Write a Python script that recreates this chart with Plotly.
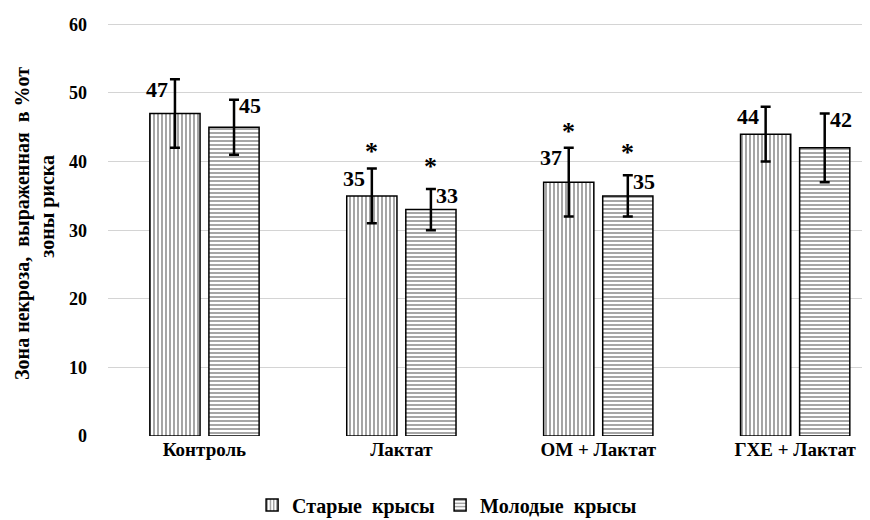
import plotly.graph_objects as go

categories = ["Контроль", "Лактат", "ОМ + Лактат", "ГХЕ + Лактат"]
old_vals = [47, 35, 37, 44]
old_err = [5, 4, 5, 4]
young_vals = [45, 33, 35, 42]
young_err = [4, 3, 3, 5]
old_star = [False, True, True, False]
young_star = [False, True, True, False]
y_ticks = [0, 10, 20, 30, 40, 50, 60]
y_title_lines = ["Зона некроза,  выраженная  в %от", "зоны риска"]

FONT = "Times New Roman, Liberation Serif, DejaVu Serif, serif"
xs = list(range(len(categories)))

fig = go.Figure()
fig.add_trace(go.Bar(
    x=xs, y=old_vals, name="Старые  крысы",
    marker=dict(color="white", line=dict(color="black", width=1.5),
                pattern=dict(shape="|", fgcolor="black", bgcolor="white", size=4, solidity=0.35)),
    error_y=dict(type="data", array=old_err, color="black", thickness=2.5, width=5),
))
fig.add_trace(go.Bar(
    x=xs, y=young_vals, name="Молодые  крысы",
    marker=dict(color="white", line=dict(color="black", width=1.5),
                pattern=dict(shape="-", fgcolor="black", bgcolor="white", size=4, solidity=0.35)),
    error_y=dict(type="data", array=young_err, color="black", thickness=2.5, width=5),
))

off = 0.15
ann = []
for i in xs:
    top_o = old_vals[i] + old_err[i]
    top_y = young_vals[i] + young_err[i]
    ann.append(dict(x=i - off, y=top_o, text=str(old_vals[i]), showarrow=False,
                    xanchor="right", yanchor="middle", xshift=-5, yshift=-10,
                    font=dict(family=FONT, size=22, color="black", weight="bold")))
    ann.append(dict(x=i + off, y=top_y, text=str(young_vals[i]), showarrow=False,
                    xanchor="left", yanchor="middle", xshift=3, yshift=-6,
                    font=dict(family=FONT, size=22, color="black", weight="bold")))
    if old_star[i]:
        ann.append(dict(x=i - off, y=top_o, text="*", showarrow=False,
                        xanchor="center", yanchor="bottom", yshift=0,
                        font=dict(family=FONT, size=26, color="black", weight="bold")))
    if young_star[i]:
        ann.append(dict(x=i + off, y=top_y, text="*", showarrow=False,
                        xanchor="center", yanchor="bottom", yshift=6,
                        font=dict(family=FONT, size=26, color="black", weight="bold")))

# y-axis title, two lines
ann.append(dict(xref="paper", yref="paper", x=-0.113, y=0.5156, text=y_title_lines[0],
                textangle=-90, showarrow=False, xanchor="center", yanchor="middle",
                font=dict(family=FONT, size=20, color="black", weight="bold")))
ann.append(dict(xref="paper", yref="paper", x=-0.079, y=0.557, text=y_title_lines[1],
                textangle=-90, showarrow=False, xanchor="center", yanchor="middle",
                font=dict(family=FONT, size=20, color="black", weight="bold")))

fig.update_layout(
    width=862, height=512,
    margin=dict(l=100, r=0, t=15, b=84, autoexpand=False),
    paper_bgcolor="white", plot_bgcolor="white",
    barmode="group", bargap=0.4, bargroupgap=0.15,
    font=dict(family=FONT, color="black"),
    xaxis=dict(range=[-0.49, 3.38], tickvals=xs, ticktext=categories,
               showgrid=False, zeroline=False, showline=False, ticks="",
               automargin=False,
               tickfont=dict(family=FONT, size=19, color="black", weight="bold")),
    yaxis=dict(range=[0, 60.2], tickvals=y_ticks, showgrid=True, gridcolor="#d4d4d4",
               gridwidth=1, zeroline=False, showline=False, ticks="",
               automargin=False, ticklabelstandoff=20,
               tickfont=dict(family=FONT, size=18, color="black", weight="bold")),
    legend=dict(orientation="h", x=0.445, xanchor="center", y=-0.167, yanchor="middle",
                font=dict(family=FONT, size=20, color="black", weight="bold"),
                itemwidth=30, tracegroupgap=0),
    annotations=ann,
    showlegend=True,
)

fig.write_html("out.html")
